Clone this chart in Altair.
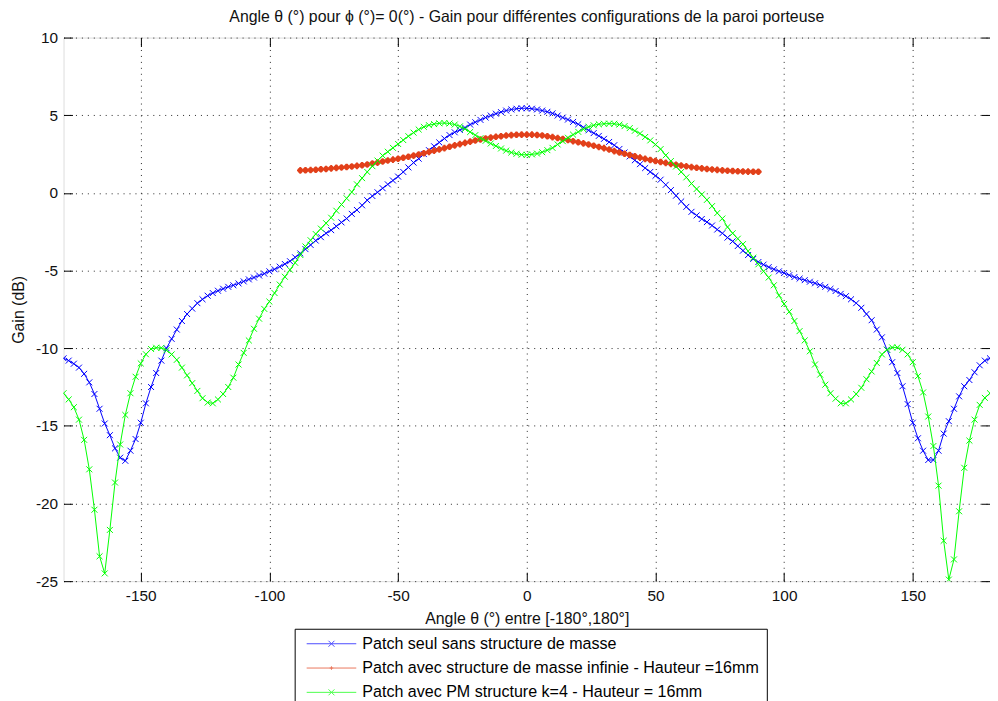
import altair as alt
import pandas as pd

# ---------------- data ----------------
theta_full = list(range(-180, 181, 2))   # sampling grid of the two full curves
theta_red = list(range(-88, 91, 2))      # sampling grid of the red curve

gain_blue = [
    -10.65, -10.8, -11.0, -11.25, -11.65, -12.2, -12.95, -13.9, -14.85, -15.6,
    -16.45, -17.05, -17.25, -16.6, -15.85, -14.8, -13.55, -12.5, -11.6, -10.8,
    -10.0, -9.4, -8.8, -8.25, -7.8, -7.45, -7.1, -6.85, -6.62, -6.45,
    -6.3, -6.17, -6.05, -5.95, -5.83, -5.7, -5.57, -5.45, -5.32, -5.2,
    -5.05, -4.92, -4.75, -4.58, -4.4, -4.15, -3.9, -3.62, -3.35, -3.07,
    -2.85, -2.6, -2.4, -2.15, -1.9, -1.65, -1.35, -1.1, -0.8, -0.47,
    -0.2, 0.04, 0.3, 0.55, 0.8, 1.05, 1.35, 1.64, 1.95, 2.2,
    2.5, 2.75, 3.0, 3.25, 3.5, 3.72, 3.9, 4.05, 4.2, 4.4,
    4.55, 4.7, 4.85, 4.98, 5.1, 5.2, 5.3, 5.37, 5.42, 5.45,
    5.45, 5.42, 5.37, 5.3, 5.22, 5.12, 4.98, 4.85, 4.72, 4.57,
    4.42, 4.22, 4.03, 3.85, 3.67, 3.48, 3.28, 3.07, 2.83, 2.6,
    2.35, 2.1, 1.85, 1.6, 1.35, 1.1, 0.85, 0.52, 0.18, -0.18,
    -0.55, -0.9, -1.22, -1.45, -1.68, -1.88, -2.1, -2.36, -2.6, -2.88,
    -3.12, -3.42, -3.72, -4.0, -4.25, -4.45, -4.62, -4.78, -4.92, -5.05,
    -5.16, -5.3, -5.42, -5.52, -5.62, -5.72, -5.82, -5.94, -6.05, -6.18,
    -6.32, -6.5, -6.65, -6.85, -7.1, -7.4, -7.8, -8.2, -8.8, -9.3,
    -10.1, -10.9, -11.6, -12.45, -13.6, -14.8, -15.8, -16.6, -17.2, -17.2,
    -16.6, -15.5, -14.7, -13.9, -13.1, -12.45, -12.05, -11.55, -11.1, -10.8,
    -10.65,
]

gain_red = [
    1.45, 1.46, 1.47, 1.49, 1.52, 1.54, 1.58, 1.61, 1.64, 1.67,
    1.7, 1.74, 1.78, 1.83, 1.89, 1.95, 2.02, 2.08, 2.14, 2.2,
    2.26, 2.33, 2.4, 2.47, 2.55, 2.64, 2.72, 2.8, 2.88, 2.97,
    3.06, 3.14, 3.22, 3.3, 3.37, 3.44, 3.5, 3.56, 3.61, 3.65,
    3.69, 3.72, 3.74, 3.75, 3.75, 3.75, 3.73, 3.7, 3.65, 3.59,
    3.53, 3.47, 3.4, 3.33, 3.26, 3.19, 3.12, 3.04, 2.96, 2.88,
    2.79, 2.69, 2.6, 2.52, 2.44, 2.36, 2.27, 2.19, 2.12, 2.05,
    1.99, 1.93, 1.87, 1.81, 1.76, 1.71, 1.66, 1.62, 1.58, 1.54,
    1.51, 1.48, 1.45, 1.43, 1.41, 1.39, 1.38, 1.37, 1.36, 1.36,
]

gain_green = [
    -12.9, -13.3, -13.8, -14.6, -15.9, -17.8, -20.4, -23.4, -24.5, -21.7,
    -18.65, -16.2, -14.3, -12.9, -11.84, -10.98, -10.39, -10.05, -9.97, -9.98,
    -10.13, -10.4, -10.75, -11.25, -11.75, -12.25, -12.75, -13.22, -13.5, -13.55,
    -13.3, -12.95, -12.5, -11.9, -11.05, -10.3, -9.5, -8.75, -8.1, -7.47,
    -7.0, -6.45, -5.9, -5.4, -4.95, -4.5, -4.0, -3.45, -3.05, -2.65,
    -2.3, -1.95, -1.6, -1.15, -0.75, -0.35, 0.05, 0.55, 0.95, 1.35,
    1.72, 2.08, 2.4, 2.65, 2.9, 3.15, 3.4, 3.65, 3.88, 4.08,
    4.25, 4.36, 4.43, 4.48, 4.5, 4.47, 4.4, 4.28, 4.12, 3.92,
    3.72, 3.52, 3.35, 3.18, 3.02, 2.86, 2.72, 2.6, 2.52, 2.46,
    2.45, 2.48, 2.53, 2.62, 2.75, 2.9, 3.12, 3.33, 3.55, 3.75,
    3.93, 4.1, 4.25, 4.35, 4.42, 4.45, 4.46, 4.45, 4.4, 4.3,
    4.17, 4.0, 3.82, 3.6, 3.38, 3.12, 2.82, 2.42, 2.05, 1.7,
    1.35, 1.0, 0.6, 0.25, -0.1, -0.45, -0.85, -1.3, -1.65, -2.2,
    -2.6, -2.95, -3.3, -3.75, -4.17, -4.6, -5.05, -5.45, -5.95, -6.6,
    -7.15, -7.65, -8.25, -8.9, -9.5, -10.2, -11.05, -11.7, -12.35, -12.9,
    -13.25, -13.55, -13.55, -13.3, -12.95, -12.55, -12.0, -11.5, -10.95, -10.4,
    -10.1, -9.95, -9.95, -10.1, -10.4, -10.9, -11.8, -12.85, -14.4, -16.3,
    -18.85, -22.4, -24.9, -23.6, -20.5, -17.7, -15.95, -14.6, -13.65, -13.2,
    -12.9,
]

series_names = [
    "Patch seul sans structure de masse",
    "Patch avec structure de masse infinie - Hauteur =16mm",
    "Patch avec PM structure k=4 - Hauteur = 16mm",
]
series_colors = ["#0000ff", "#e2401a", "#00ff00"]

x_ticks = [-150, -100, -50, 0, 50, 100, 150]
y_ticks = [-25, -20, -15, -10, -5, 0, 5, 10]

# ---------------- styling ----------------
FONT = "Liberation Sans"
X_MARK = "M-1,-1L1,1M-1,1L1,-1"
STAR_MARK = "M-1,0L1,0M0,-1L0,1M-0.6,-0.6L0.6,0.6M-0.6,0.6L0.6,-0.6"
# legend symbols: a line segment with the marker in the middle
LEG_X = "M-8.33,0L8.33,0M-1,-1L1,1M-1,1L1,-1"
LEG_DOT = "M-8.33,0L8.33,0M-0.6,0L0.6,0M0,-0.6L0,0.6"
marker_shapes = [X_MARK, STAR_MARK, X_MARK]
marker_sizes = [36, 44, 36]
marker_widths = [1, 2, 1]
legend_shapes = [LEG_X, LEG_DOT, LEG_X]

frames = []
frames.append(pd.DataFrame({"series": series_names[0], "theta": theta_full, "gain": gain_blue}))
frames.append(pd.DataFrame({"series": series_names[1], "theta": theta_red, "gain": gain_red}))
frames.append(pd.DataFrame({"series": series_names[2], "theta": theta_full, "gain": gain_green}))
df = pd.concat(frames, ignore_index=True)

x_scale = alt.Scale(domain=[-180, 180], nice=False, zero=False)
y_scale = alt.Scale(domain=[-25, 10], nice=False, zero=False)

LABEL_EXPR = "toString(datum.value)"

axis_x_main = alt.Axis(
    values=x_ticks, orient="bottom", ticks=False, domain=False, grid=True,
    gridColor="#000000", gridDash=[1, 5], gridOpacity=0.85, gridWidth=1,
    labelFont=FONT, labelFontSize=15.5, labelColor="#111111", labelPadding=8,
    labelExpr=LABEL_EXPR,
    labelFlush=False, title="Angle θ (°) entre [-180°,180°]", titleFont=FONT,
    titleFontSize=16, titleFontWeight="normal", titleColor="#111111", titlePadding=6,
)
axis_y_main = alt.Axis(
    values=y_ticks, orient="left", ticks=False, domain=False, grid=True,
    gridColor="#000000", gridDash=[1, 5], gridOpacity=0.85, gridWidth=1,
    labelFont=FONT, labelFontSize=15.5, labelColor="#111111", labelPadding=6,
    labelExpr=LABEL_EXPR,
    labelFlush=False, title="Gain (dB)", titleFont=FONT, titleFontSize=16,
    titleFontWeight="normal", titleColor="#111111", titlePadding=9,
)


def tick_axis(orient, values):
    return alt.Axis(values=values, orient=orient, offset=-9, ticks=True, tickSize=9,
                    tickColor="#000000", tickWidth=1, labels=False, domain=False,
                    grid=False, title=None)


axes = [
    (axis_x_main, axis_y_main),
    (tick_axis("bottom", x_ticks), tick_axis("left", y_ticks)),
    (tick_axis("top", x_ticks), tick_axis("right", y_ticks)),
]

layers = []
for i, name in enumerate(series_names):
    ax, ay = axes[i]
    sub = df[df["series"] == name]
    layers.append(
        alt.Chart(sub).mark_line(
            color=series_colors[i], strokeWidth=1, clip=True,
            point=alt.OverlayMarkDef(shape=marker_shapes[i], filled=False, size=marker_sizes[i],
                                     color=series_colors[i],
                                     strokeWidth=marker_widths[i], clip=True),
        ).encode(
            x=alt.X("theta:Q", scale=x_scale, axis=ax),
            y=alt.Y("gain:Q", scale=y_scale, axis=ay),
        )
    )

legend_def = alt.Legend(
    orient="none", legendX=233, legendY=596, direction="vertical", title=None,
    strokeColor="#000000", fillColor="#ffffff", padding=7,
    labelFont=FONT, labelFontSize=16.2, labelColor="#000000", labelLimit=800,
    symbolSize=36, symbolStrokeWidth=1, symbolOffset=22, labelOffset=23, rowPadding=7.5,
)
legend_layer = alt.Chart(df).transform_filter("false").mark_point(filled=False, size=36).encode(
    color=alt.Color("series:N", scale=alt.Scale(domain=series_names, range=series_colors), legend=legend_def),
    shape=alt.Shape("series:N", scale=alt.Scale(domain=series_names, range=legend_shapes), legend=legend_def),
)

chart = alt.layer(*layers, legend_layer).resolve_axis(
    x="independent", y="independent"
).properties(
    width=934, height=548,
    autosize=alt.AutoSizeParams(type="none"),
    padding={"left": 56, "top": 27, "right": 0, "bottom": 118},
    title=alt.TitleParams(
        "Angle θ (°) pour ϕ (°)= 0(°) - Gain pour différentes configurations de la paroi porteuse",
        font=FONT, fontSize=16, fontWeight="normal", color="#111111",
        anchor="middle", baseline="alphabetic", offset=12, dy=19,
    ),
).configure_view(stroke="#000000", strokeWidth=1).configure(background="#ffffff")

chart.save("out.html", embed_options={"renderer": "svg", "actions": False})
